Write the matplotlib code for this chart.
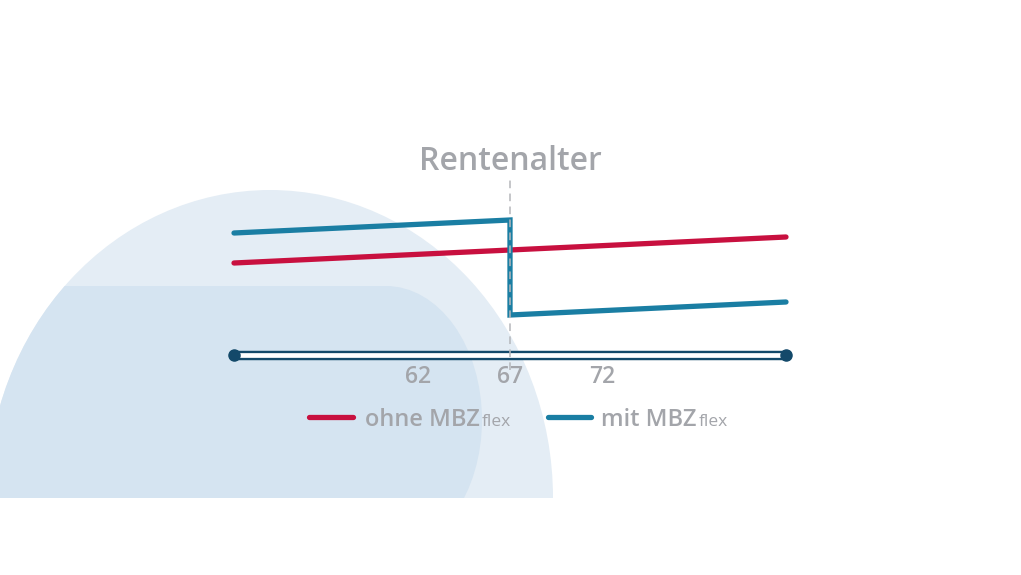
import matplotlib
matplotlib.use("Agg")
import matplotlib.pyplot as plt
from matplotlib.patches import Ellipse, Rectangle
from matplotlib.lines import Line2D

# --------------------------------------------
# データ
# --------------------------------------------
alter_ohne = [52, 82]
wert_ohne = [92, 118]
alter_mit = [52, 67, 67, 82]
wert_mit = [122, 135, 40, 53]
achse_von_bis = [52, 82]
ticks = [62, 67, 72]
tick_labels = ["62", "67", "72"]
rentenalter = 67

# 色
ROT = "#c8103f"
BLAU = "#1a7ea3"
DUNKEL = "#13496a"
GRAU = "#a3a5aa"
HELL1 = "#e4edf5"
HELL2 = "#d5e4f1"

plt.rcParams['font.family'] = ['Open Sans', 'DejaVu Sans']

W, H = 1021, 575
fig = plt.figure(figsize=(W / 100, H / 100), dpi=100)
fig.patch.set_facecolor("white")

# --------------------------------------------
# 背景の図形 (ピクセル座標)
# --------------------------------------------
bg = fig.add_axes([0, 0, 1, 1], zorder=0)
bg.set_xlim(0, W)
bg.set_ylim(H, 0)
bg.axis("off")

unten = Rectangle((-50, -50), 1200, 548, transform=bg.transData)
aussen = Ellipse((270, 498), 566, 616, facecolor=HELL1, edgecolor="none")
bg.add_patch(aussen)
aussen.set_clip_path(unten)

innen_rect = Rectangle((-20, 286), 406, 212, facecolor=HELL2, edgecolor="none")
innen_ell = Ellipse((386, 420), 192, 268, facecolor=HELL2, edgecolor="none")
for p in (innen_rect, innen_ell):
    bg.add_patch(p)
    p.set_clip_path(aussen)
innen_ell.set_clip_path(Rectangle((-50, -50), 1200, 548, transform=bg.transData))

# --------------------------------------------
# グラフ本体
# --------------------------------------------
ax = fig.add_axes([0, 0, 1, 1], zorder=1)
ax.patch.set_alpha(0)
ax.set_xlim(67 - 510 / 18.4, 67 + 511 / 18.4)
ax.set_ylim(-220, 355)

for s in ax.spines.values():
    s.set_visible(False)
ax.spines['bottom'].set_position(('data', 0))
ax.set_yticks([])
ax.set_xticks(ticks)
ax.set_xticklabels(tick_labels, fontweight="semibold")
ax.tick_params(axis="x", length=0, pad=7, labelsize=16.5, labelcolor=GRAU)

# 時間軸
ax.plot(achse_von_bis, [0, 0], color=DUNKEL, lw=6.8, solid_capstyle="butt", zorder=3)
ax.plot(achse_von_bis, [0, 0], color="white", lw=3.4, solid_capstyle="butt", zorder=4)
ax.plot(achse_von_bis, [0, 0], ls="none", marker="o", ms=8, color=DUNKEL, zorder=5)

# 線
ax.plot(alter_ohne, wert_ohne, color=ROT, lw=3.8, solid_capstyle="round", zorder=6)
ax.plot(alter_mit, wert_mit, color=BLAU, lw=3.8, solid_capstyle="round",
        solid_joinstyle="miter", zorder=7)

# Rentenalter
ax.plot([rentenalter, rentenalter], [-15, 175], color="#b5b7bb", lw=1.1,
        dashes=(5, 3.5), zorder=8)
ax.text(rentenalter, 194, "Rentenalter", ha="center", va="center",
        fontsize=23, color=GRAU, fontweight="semibold")

# --------------------------------------------
# 凡例
# --------------------------------------------
yl = 1 - 417 / H
yb = 1 - 426 / H
fig.add_artist(Line2D([309 / W, 353 / W], [yl, yl], color=ROT, lw=3.8,
                      solid_capstyle="round"))
t1 = fig.text(365 / W, yb, "ohne MBZ", fontsize=17, color=GRAU, va="baseline",
              fontweight="semibold")
fig.add_artist(Line2D([548 / W, 591 / W], [yl, yl], color=BLAU, lw=3.8,
                      solid_capstyle="round"))
t2 = fig.text(601 / W, yb, "mit MBZ", fontsize=17, color=GRAU, va="baseline",
              fontweight="semibold")

# "flex" を小さく後ろに付ける
fig.canvas.draw()
r = fig.canvas.get_renderer()
for t in (t1, t2):
    x1 = t.get_window_extent(r).x1
    fig.text((x1 + 2) / W, yb, "flex", fontsize=12.5, color=GRAU, va="baseline")

fig.savefig("out.png", dpi=100)
